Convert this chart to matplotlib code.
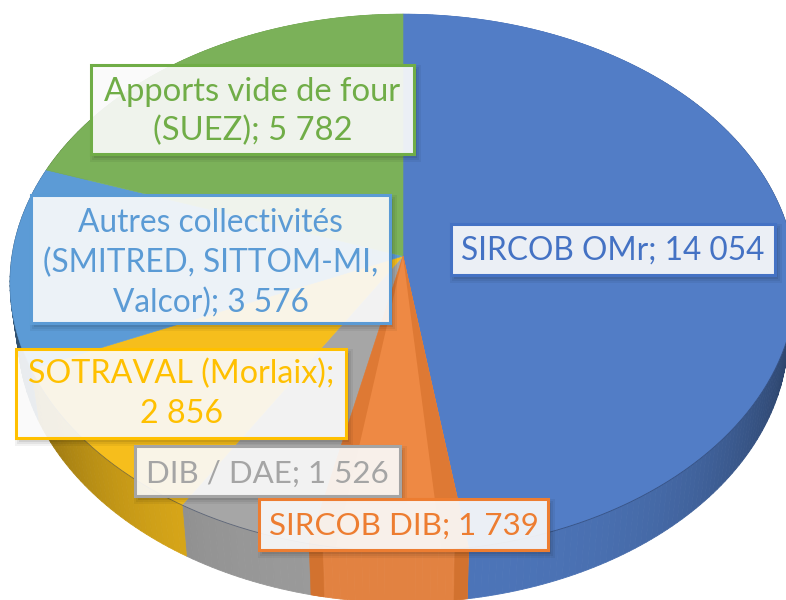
import numpy as np
import matplotlib
matplotlib.use("Agg")
import matplotlib.pyplot as plt
import matplotlib.patches as patches
import matplotlib.colors as mcolors

plt.rcParams['font.family'] = ['Lato', 'DejaVu Sans']

# slices, clockwise from the top
names = ["SIRCOB OMr", "SIRCOB DIB", "DIB / DAE", "SOTRAVAL (Morlaix)",
         "Autres collectivités", "Apports vide de four"]
values = [14054, 1739, 1526, 2856, 3576, 5782]
top_colors = ["#527DC6", "#EE8944", "#A6A6A6", "#F6BE1C", "#5C9BD6", "#7BB159"]
band_colors = ["#527DC6", "#DE7934", "#999999", "#E8B218", "#5594CE", "#7BB159"]
text_colors = ["#4472C4", "#ED7D31", "#A5A5A5", "#FFC000", "#5B9BD5", "#70AD47"]

# label text, box (x0, y0, x1, y1), line centres in pixels
label_lines = [
    ["SIRCOB OMr; 14 054"],
    ["SIRCOB DIB; 1 739"],
    ["DIB / DAE; 1 526"],
    ["SOTRAVAL (Morlaix);", "2 856"],
    ["Autres collectivités", "(SMITRED, SITTOM-MI,", "Valcor); 3 576"],
    ["Apports vide de four", "(SUEZ); 5 782"],
]
label_boxes = [(451, 224, 775, 275), (259, 499, 548, 550), (135, 446, 400, 496),
               (16, 349, 346, 438), (31, 195, 390, 323), (91, 65, 414, 154)]
label_y = [[251], [526], [474], [374, 414], [223, 263, 303], [92, 131]]
label_size = [22.8, 22.6, 22.5, 23.2, 22.8, 23.6]

# perspective of the tilted disc, in pixels
CX, CY = 403, 256
RX, RY = 391, 266
TILT = 0.1
DEPTH = 51
SHRINK = 0.98


def project(angle):
    u, v = np.sin(angle), np.cos(angle)
    w = 1 + TILT * v
    return CX + RX * u / w, CY - RY * v / w


def shade(color, factor):
    return np.array(mcolors.to_rgb(color)) * factor


fig = plt.figure(figsize=(7.86, 6), dpi=100)
ax = fig.add_axes([0, 0, 1, 1])
ax.set_xlim(0, 786)
ax.set_ylim(600, 0)
ax.axis("off")

edges = np.radians(np.concatenate([[0], np.cumsum(values)]) / sum(values) * 360)

# side wall
for i in range(len(values)):
    a = np.linspace(edges[i], edges[i + 1], max(int((edges[i + 1] - edges[i]) * 60), 8))
    for a0, a1 in zip(a[:-1], a[1:]):
        x0, y0 = project(a0)
        x1, y1 = project(a1)
        mid = (a0 + a1) / 2
        f = 0.93 - 0.42 * abs(np.sin(mid)) ** 3
        if i == 1:
            f = 0.95
        col = shade(top_colors[i], f)
        ax.fill([x0, x1, CX + SHRINK * (x1 - CX), CX + SHRINK * (x0 - CX)],
                [y0, y1, y1 + DEPTH, y0 + DEPTH], color=col, lw=0.6, zorder=1)

# darker bands at the borders of the orange slice
inset = np.radians(3.6)
wall_inset = np.radians(1.8)
for a0, a1 in [(edges[1], edges[1] + wall_inset), (edges[2] - wall_inset, edges[2])]:
    x0, y0 = project(a0)
    x1, y1 = project(a1)
    ax.fill([x0, x1, CX + SHRINK * (x1 - CX), CX + SHRINK * (x0 - CX)],
            [y0, y1, y1 + DEPTH, y0 + DEPTH], color="#D2722F", lw=0.4, zorder=1.5)

# top face
for i in range(len(values)):
    a = np.linspace(edges[i], edges[i + 1], 120)
    x, y = project(a)
    ax.fill(np.r_[CX, x], np.r_[CY, y], color=top_colors[i], lw=0.4, zorder=2)
    if i == 1:
        ax.fill(np.r_[CX, x], np.r_[CY, y], color=band_colors[i], lw=0.4, zorder=2.1)
        x, y = project(np.linspace(edges[i] + inset, edges[i + 1] - inset, 60))
        ax.fill(np.r_[CX, x], np.r_[CY, y], color=top_colors[i], lw=0, zorder=2.2)

# seam between the top face and the wall
a = np.linspace(np.radians(90), np.radians(250), 300)
x, y = project(a)
ax.plot(x, y, color="#1F2F50", lw=0.6, alpha=0.55, zorder=2.3)

# data labels
for i in range(len(values)):
    x0, y0, x1, y1 = label_boxes[i]
    for grow, alpha in [(4, 0.05), (2, 0.06), (0, 0.08)]:
        ax.add_patch(patches.Rectangle((x0 + 3 - grow, y0 + 4 - grow), x1 - x0 + 2 * grow,
                                       y1 - y0 + 2 * grow, facecolor="black", alpha=alpha,
                                       lw=0, zorder=3))
    ax.add_patch(patches.Rectangle((x0, y0), x1 - x0, y1 - y0,
                                   facecolor=(1, 1, 1, 0.9), edgecolor=text_colors[i],
                                   lw=2.2, zorder=4))
    for line, ly in zip(label_lines[i], label_y[i]):
        ax.text((x0 + x1) / 2, ly, line, color=text_colors[i], fontsize=label_size[i],
                ha="center", va="center", zorder=5)

fig.savefig("out.png", dpi=100)
